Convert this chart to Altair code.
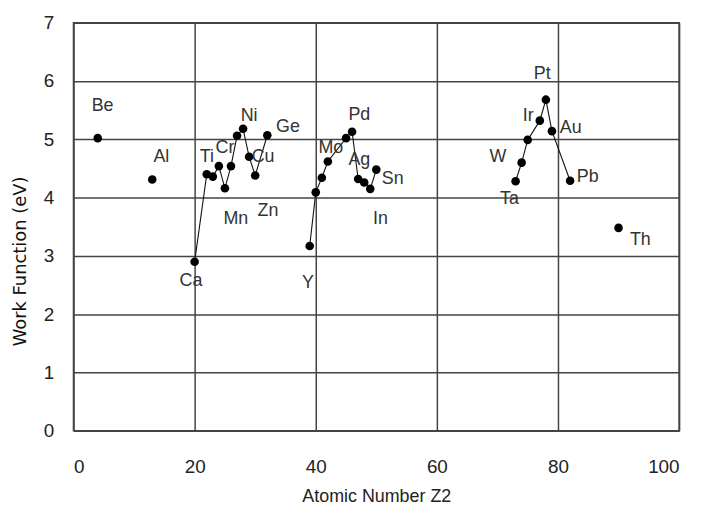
import altair as alt
import pandas as pd

# Elements, atomic numbers, work functions (eV), line group (0 = no line)
symbols = ["Be", "Al", "Ca", "Ti", "V", "Cr", "Mn", "Fe", "Co", "Ni", "Cu", "Zn", "Ge",
           "Y", "Zr", "Nb", "Mo", "Rh", "Pd", "Ag", "Cd", "In", "Sn",
           "Ta", "W", "Re", "Ir", "Pt", "Au", "Pb", "Th"]
z_numbers = [4, 13, 20, 22, 23, 24, 25, 26, 27, 28, 29, 30, 32,
             39, 40, 41, 42, 45, 46, 47, 48, 49, 50,
             73, 74, 75, 77, 78, 79, 82, 90]
work_fn = [5.02, 4.31, 2.90, 4.40, 4.36, 4.54, 4.16, 4.54, 5.06, 5.18, 4.70, 4.38, 5.07,
           3.17, 4.09, 4.34, 4.62, 5.02, 5.13, 4.32, 4.26, 4.15, 4.48,
           4.28, 4.60, 4.99, 5.32, 5.68, 5.14, 4.29, 3.48]
groups = [0, 0, 1, 1, 1, 1, 1, 1, 1, 1, 1, 1, 1,
          2, 2, 2, 2, 2, 2, 2, 2, 2, 2,
          3, 3, 3, 3, 3, 3, 3, 0]

# Labels drawn (subset of elements) and their positions in data units
label_text = ["Be", "Al", "Ca", "Ti", "Cr", "Ni", "Cu", "Mn", "Zn", "Ge",
              "Y", "Mo", "Pd", "Ag", "Sn", "In",
              "W", "Ta", "Ir", "Pt", "Au", "Pb", "Th"]
label_x = [4.8, 14.5, 19.4, 22.0, 25.0, 29.0, 31.3, 26.8, 32.1, 35.4,
           38.7, 42.5, 47.2, 47.2, 52.7, 50.7,
           70.1, 72.0, 75.1, 77.4, 82.1, 84.9, 93.6]
label_y = [5.57, 4.69, 2.56, 4.69, 4.85, 5.40, 4.69, 3.64, 3.77, 5.21,
           2.54, 4.85, 5.42, 4.65, 4.32, 3.64,
           4.70, 3.97, 5.40, 6.12, 5.19, 4.36, 3.28]

x_ticks = [0, 20, 40, 60, 80, 100]
y_ticks = [0, 1, 2, 3, 4, 5, 6, 7]

df = pd.DataFrame({"sym": symbols, "z": z_numbers, "wf": work_fn, "grp": groups})
lines_df = df[df["grp"] > 0]
labels_df = pd.DataFrame({"t": label_text, "x": label_x, "y": label_y})

FONT = "Liberation Sans"
xscale = alt.Scale(domain=[0, 100], nice=False, zero=False)
yscale = alt.Scale(domain=[0, 7], nice=False)

xenc = alt.X("z:Q", scale=xscale,
             axis=alt.Axis(values=x_ticks, title="Atomic Number Z2", format="d",
                           grid=True, ticks=False, domain=False,
                           labelPadding=27, titlePadding=11))
yenc = alt.Y("wf:Q", scale=yscale,
             axis=alt.Axis(values=y_ticks, title="Work Function (eV)", format="d",
                           grid=True, ticks=False, domain=False,
                           labelPadding=20, titlePadding=14, titleY=240))

line = alt.Chart(lines_df).mark_line(color="#111111", strokeWidth=1.1).encode(
    x=xenc, y=yenc, detail="grp:N", order="z:Q")

points = alt.Chart(df).mark_circle(color="#000000", size=75, opacity=1).encode(
    x=alt.X("z:Q", scale=xscale), y=alt.Y("wf:Q", scale=yscale))

labels = alt.Chart(labels_df).mark_text(
    font=FONT, fontSize=18, color="#333333", align="center", baseline="middle"
).encode(x=alt.X("x:Q", scale=xscale), y=alt.Y("y:Q", scale=yscale), text="t:N")

chart = alt.layer(line, points, labels).properties(
    width=610, height=411,
    autosize=alt.AutoSizeParams(type="none"),
    padding={"left": 66, "top": 13, "right": 14, "bottom": 80},
).configure_view(
    stroke="#444444", strokeWidth=1.6
).configure_axis(
    gridColor="#444444", gridWidth=1.5, gridOpacity=1,
    labelFont=FONT, labelFontSize=19, labelColor="#222222",
    titleFont=FONT, titleFontSize=18, titleColor="#222222", titleFontWeight="normal",
).configure_axisY(
    titleFont="DejaVu Sans", titleFontSize=18, titleColor="#111111",
)

chart.save("out.html", embed_options={"renderer": "svg", "actions": False})
